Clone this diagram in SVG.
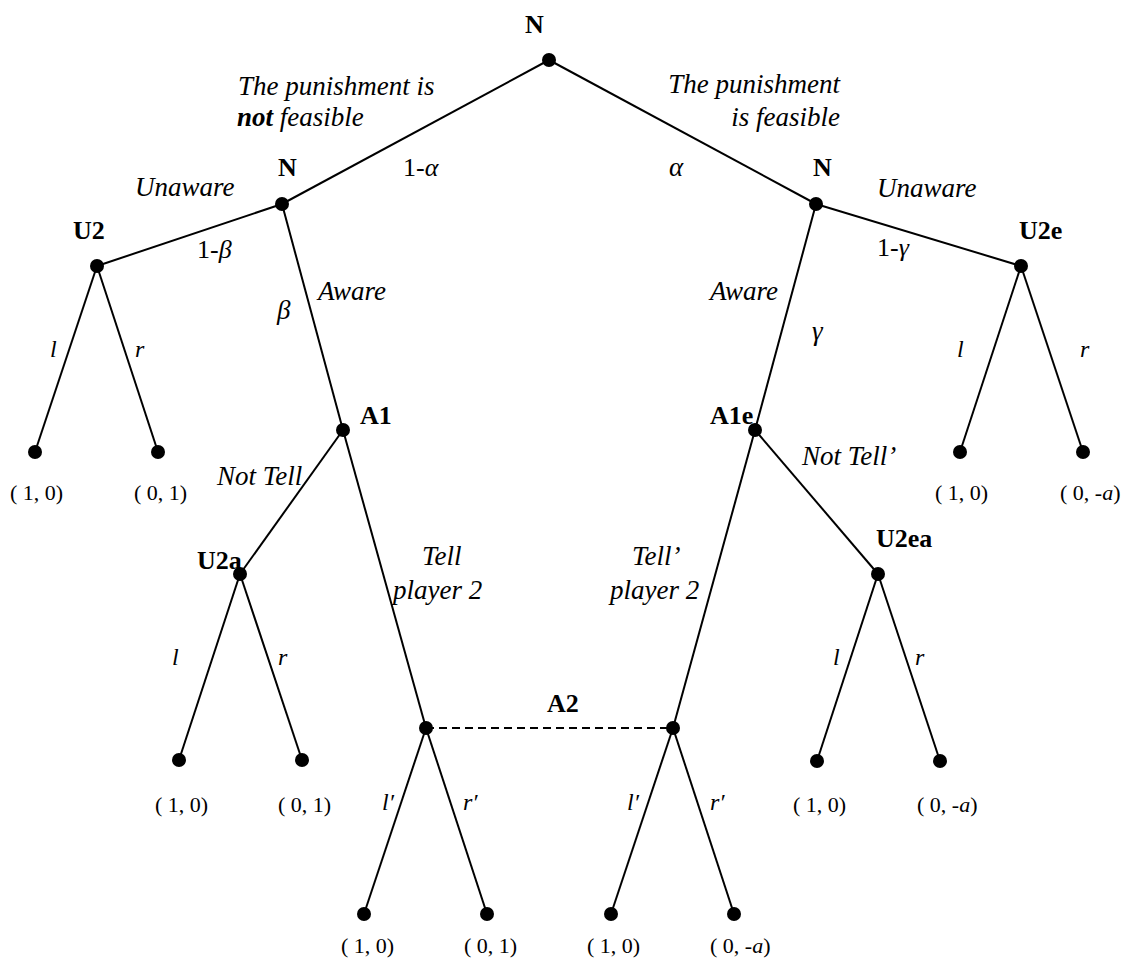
<svg xmlns="http://www.w3.org/2000/svg" width="1123" height="958" viewBox="0 0 1123 958">
<style>
.e{stroke:#000;stroke-width:2;fill:none}
.d{stroke:#000;stroke-width:2;stroke-dasharray:8 5;fill:none}
.n{fill:#000}
text{font-family:"Liberation Serif","Times New Roman","DejaVu Serif",serif;fill:#000}
.b{font-weight:bold;font-size:26px}
.i{font-style:italic;font-size:27px}
.p{font-size:22px}
.q{font-size:26px}
.s{font-style:italic;font-size:24px}
</style>
<rect width="1123" height="958" fill="#fff"/>
<g id="connectors">
<line class="e" x1="549" y1="60" x2="282" y2="204"/>
<line class="e" x1="549" y1="60" x2="816" y2="204"/>
<line class="e" x1="282" y1="204" x2="97" y2="266"/>
<line class="e" x1="282" y1="204" x2="343" y2="430"/>
<line class="e" x1="816" y1="204" x2="1021" y2="266"/>
<line class="e" x1="816" y1="204" x2="755" y2="430"/>
<line class="e" x1="97" y1="266" x2="35" y2="452"/>
<line class="e" x1="97" y1="266" x2="158" y2="452"/>
<line class="e" x1="1021" y1="266" x2="960" y2="452"/>
<line class="e" x1="1021" y1="266" x2="1083" y2="452"/>
<line class="e" x1="343" y1="430" x2="240" y2="574"/>
<line class="e" x1="343" y1="430" x2="426" y2="728"/>
<line class="e" x1="755" y1="430" x2="878" y2="574"/>
<line class="e" x1="755" y1="430" x2="673" y2="728"/>
<line class="e" x1="240" y1="574" x2="179" y2="760"/>
<line class="e" x1="240" y1="574" x2="302" y2="760"/>
<line class="e" x1="878" y1="574" x2="817" y2="761"/>
<line class="e" x1="878" y1="574" x2="940" y2="761"/>
<line class="e" x1="426" y1="728" x2="364" y2="914"/>
<line class="e" x1="426" y1="728" x2="487" y2="914"/>
<line class="e" x1="673" y1="728" x2="611" y2="914"/>
<line class="e" x1="673" y1="728" x2="734" y2="914"/>
<line class="d" x1="426" y1="728" x2="673" y2="728"/>
</g>
<g id="edge-labels">
<text class="i" x="238" y="95">The punishment is</text>
<text class="i" x="237" y="126"><tspan font-weight="bold">not</tspan> feasible</text>
<text class="i" x="840" y="93" text-anchor="end">The punishment</text>
<text class="i" x="840" y="126" text-anchor="end">is feasible</text>
<text class="q" x="403" y="176">1-<tspan font-style="italic">α</tspan></text>
<text class="i" x="669" y="176">α</text>
<text class="i" x="135" y="196">Unaware</text>
<text class="i" x="877" y="197">Unaware</text>
<text class="q" x="197" y="258">1-<tspan font-style="italic">β</tspan></text>
<text class="q" x="877" y="256">1-<tspan font-style="italic">γ</tspan></text>
<text class="i" x="318" y="300">Aware</text>
<text class="i" x="710" y="300">Aware</text>
<text class="i" x="277" y="319">β</text>
<text class="i" x="812" y="340">γ</text>
<text class="s" x="50" y="357">l</text>
<text class="s" x="135" y="357">r</text>
<text class="s" x="957" y="357">l</text>
<text class="s" x="1080" y="357">r</text>
<text class="i" x="217" y="485">Not Tell</text>
<text class="i" x="802" y="465">Not Tell’</text>
<text class="i" x="422" y="565">Tell</text>
<text class="i" x="393" y="599">player 2</text>
<text class="i" x="632" y="565">Tell’</text>
<text class="i" x="610" y="599">player 2</text>
<text class="s" x="172" y="665">l</text>
<text class="s" x="278" y="665">r</text>
<text class="s" x="833" y="665">l</text>
<text class="s" x="915" y="665">r</text>
<text class="s" x="382" y="810">l′</text>
<text class="s" x="463" y="810">r′</text>
<text class="s" x="627" y="810">l′</text>
<text class="s" x="710" y="810">r′</text>
</g>
<g id="root"><circle class="n" cx="549" cy="60" r="7"/><text class="b" x="525" y="33">N</text></g>
<g id="nature-left"><circle class="n" cx="282" cy="204" r="7"/><text class="b" x="278" y="176">N</text></g>
<g id="nature-right"><circle class="n" cx="816" cy="204" r="7"/><text class="b" x="813" y="176">N</text></g>
<g id="U2"><circle class="n" cx="97" cy="266" r="7"/><text class="b" x="73" y="239">U2</text></g>
<g id="U2e"><circle class="n" cx="1021" cy="266" r="7"/><text class="b" x="1019" y="239">U2e</text></g>
<g id="A1"><circle class="n" cx="343" cy="430" r="7"/><text class="b" x="360" y="424">A1</text></g>
<g id="A1e"><circle class="n" cx="755" cy="430" r="7"/><text class="b" x="710" y="424">A1e</text></g>
<g id="U2a"><circle class="n" cx="240" cy="574" r="7"/><text class="b" x="197" y="569">U2a</text></g>
<g id="U2ea"><circle class="n" cx="878" cy="574" r="7"/><text class="b" x="876" y="547">U2ea</text></g>
<g id="A2"><circle class="n" cx="426" cy="728" r="7"/><circle class="n" cx="673" cy="728" r="7"/><text class="b" x="547" y="712">A2</text></g>
<g id="leaf-U2-l"><circle class="n" cx="35" cy="452" r="7"/><text class="p" x="10" y="500">( 1, 0)</text></g>
<g id="leaf-U2-r"><circle class="n" cx="158" cy="452" r="7"/><text class="p" x="134" y="500">( 0, 1)</text></g>
<g id="leaf-U2e-l"><circle class="n" cx="960" cy="452" r="7"/><text class="p" x="935" y="500">( 1, 0)</text></g>
<g id="leaf-U2e-r"><circle class="n" cx="1083" cy="452" r="7"/><text class="p" x="1060" y="500">( 0, -<tspan font-style="italic">a</tspan>)</text></g>
<g id="leaf-U2a-l"><circle class="n" cx="179" cy="760" r="7"/><text class="p" x="155" y="812">( 1, 0)</text></g>
<g id="leaf-U2a-r"><circle class="n" cx="302" cy="760" r="7"/><text class="p" x="278" y="812">( 0, 1)</text></g>
<g id="leaf-U2ea-l"><circle class="n" cx="817" cy="761" r="7"/><text class="p" x="793" y="812">( 1, 0)</text></g>
<g id="leaf-U2ea-r"><circle class="n" cx="940" cy="761" r="7"/><text class="p" x="917" y="812">( 0, -<tspan font-style="italic">a</tspan>)</text></g>
<g id="leaf-A2L-l"><circle class="n" cx="364" cy="914" r="7"/><text class="p" x="341" y="953">( 1, 0)</text></g>
<g id="leaf-A2L-r"><circle class="n" cx="487" cy="914" r="7"/><text class="p" x="464" y="953">( 0, 1)</text></g>
<g id="leaf-A2R-l"><circle class="n" cx="611" cy="914" r="7"/><text class="p" x="587" y="953">( 1, 0)</text></g>
<g id="leaf-A2R-r"><circle class="n" cx="734" cy="914" r="7"/><text class="p" x="710" y="953">( 0, -<tspan font-style="italic">a</tspan>)</text></g>
</svg>
